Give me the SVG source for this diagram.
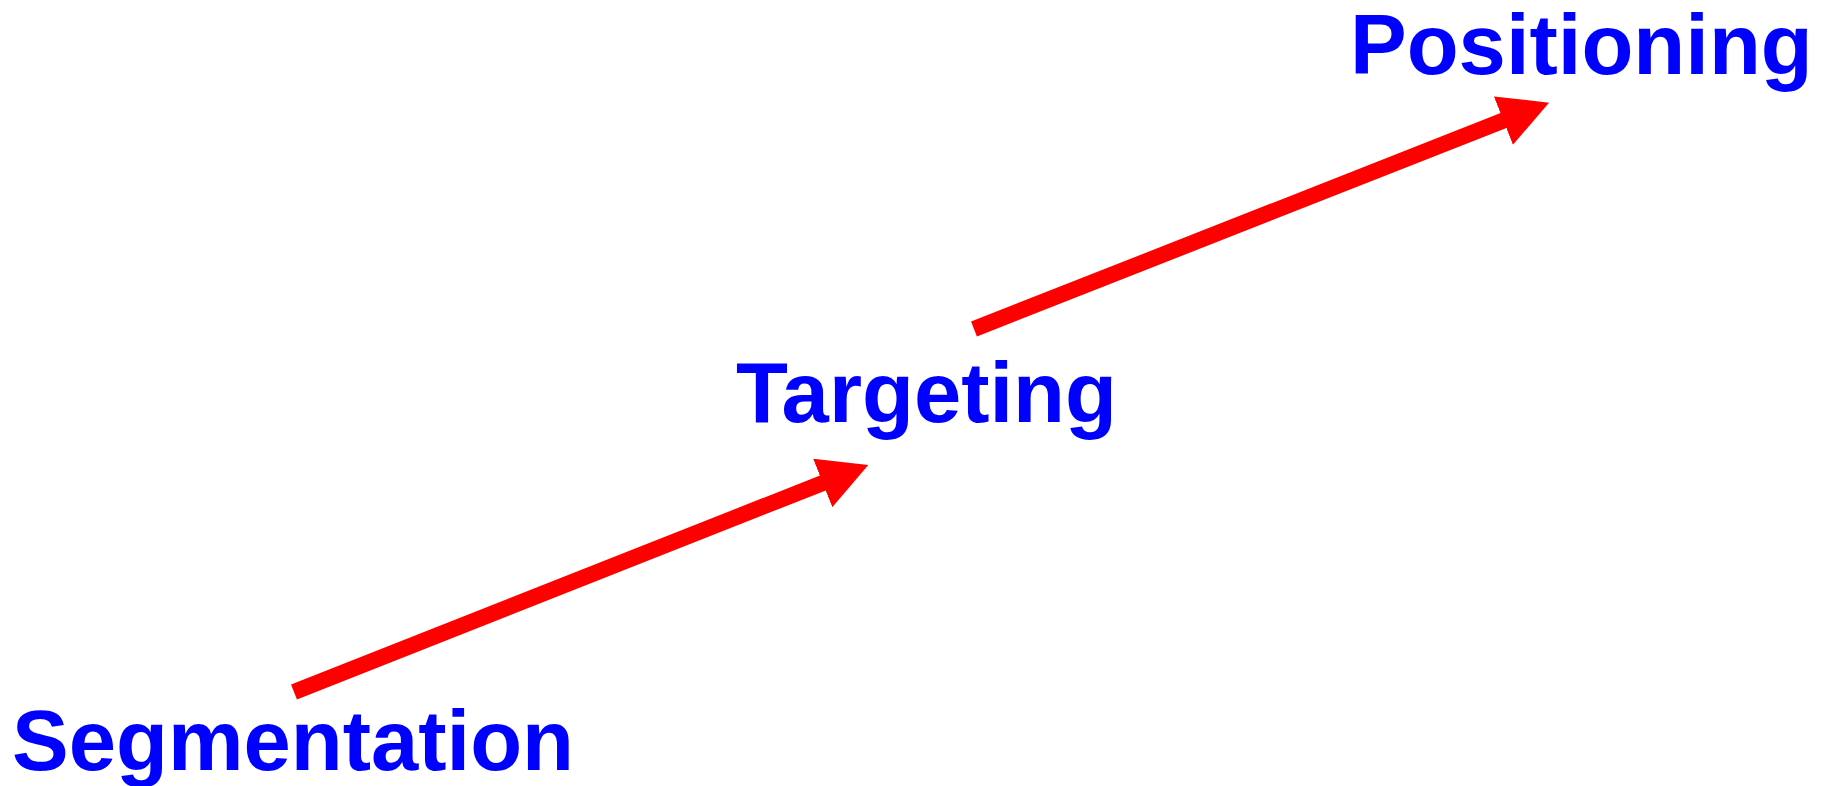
<svg xmlns="http://www.w3.org/2000/svg" width="1829" height="786" viewBox="0 0 1829 786">
  <style>
    .label { font-family: "Liberation Sans", Arial, sans-serif; font-weight: bold; font-size: 85px; fill: #0000ff; }
    .conn { stroke: #ff0000; stroke-width: 16; fill: none; stroke-linecap: butt; }
  </style>
  <defs>
    <marker id="head" markerUnits="userSpaceOnUse" markerWidth="49" markerHeight="52" refX="9" refY="26" orient="auto" viewBox="0 0 49 52">
      <path d="M0,0 L49,26 L0,52 z" fill="#ff0000"/>
    </marker>
  </defs>
  <g id="connectors">
    <line class="conn" x1="294" y1="692" x2="831.1" y2="479.7" marker-end="url(#head)"/>
    <line class="conn" x1="974" y1="329" x2="1511.8" y2="117.3" marker-end="url(#head)"/>
  </g>
  <g id="node-segmentation">
    <text class="label" x="12" y="770">Segmentation</text>
  </g>
  <g id="node-targeting">
    <text class="label" x="736" y="422">Targeting</text>
  </g>
  <g id="node-positioning">
    <text class="label" x="1350" y="74">Positioning</text>
  </g>
</svg>
